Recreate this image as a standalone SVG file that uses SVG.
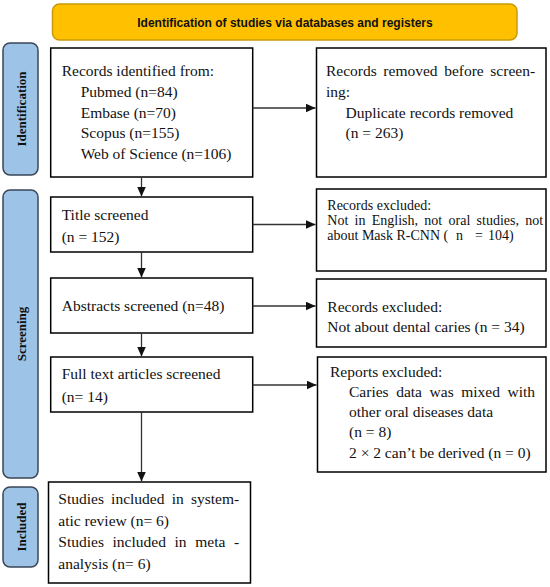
<svg xmlns="http://www.w3.org/2000/svg" width="550" height="587" viewBox="0 0 550 587">
<style>
.bg{fill:#ffffff}
.box{fill:#ffffff;stroke:#000000;stroke-width:1.5}
.bar{fill:#9DC3E6;stroke:#3A4657;stroke-width:1.5}
.banner{fill:#FFC000;stroke:#C99A06;stroke-width:1.5}
.t{font-family:"Liberation Serif","Times New Roman",serif;font-size:15.5px;fill:#111}
.s{font-family:"Liberation Serif","Times New Roman",serif;font-size:14px;fill:#111}
.side{font-family:"Liberation Serif","Times New Roman",serif;font-size:13px;font-weight:bold;fill:#111;text-anchor:middle}
.head{font-family:"Liberation Sans",Arial,sans-serif;font-size:12px;font-weight:bold;fill:#111;text-anchor:middle}
.c{stroke:#333;stroke-width:1.3;fill:none;marker-end:url(#ah)}
</style>
<defs>
<marker id="ah" markerUnits="userSpaceOnUse" markerWidth="10" markerHeight="9" refX="10" refY="4.5" orient="auto">
<path d="M0,0 L10,4.5 L0,9 z" fill="#111"/>
</marker>
</defs>
<rect class="bg" x="0" y="0" width="550" height="587"/>

<g id="banner">
<rect class="banner" x="52.5" y="4" width="464.5" height="36" rx="7"/>
<text class="head" x="285" y="26.5">Identification of studies via databases and registers</text>
</g>

<g id="bar-identification">
<rect class="bar" x="3" y="43" width="35" height="132" rx="7"/>
<text class="side" transform="translate(25.5,109) rotate(-90)">Identification</text>
</g>
<g id="bar-screening">
<rect class="bar" x="3" y="190" width="35" height="288" rx="7"/>
<text class="side" transform="translate(25.5,334) rotate(-90)">Screening</text>
</g>
<g id="bar-included">
<rect class="bar" x="3" y="487" width="35" height="80" rx="7"/>
<text class="side" transform="translate(25.5,527) rotate(-90)">Included</text>
</g>

<g id="records-identified">
<rect class="box" x="50.7" y="48" width="202" height="129"/>
<text class="t" x="61.7" y="76">Records identified from:</text>
<text class="t" x="80.7" y="97">Pubmed (n=84)</text>
<text class="t" x="80.7" y="117.5">Embase (n=70)</text>
<text class="t" x="80.7" y="138">Scopus (n=155)</text>
<text class="t" x="80.7" y="158.5">Web of Science (n=106)</text>
</g>

<g id="records-removed">
<rect class="box" x="316.5" y="48" width="229.5" height="129"/>
<text class="t" x="326" y="76" word-spacing="2.7">Records removed before screen-</text>
<text class="t" x="326" y="97">ing:</text>
<text class="t" x="345.5" y="117.5">Duplicate records removed</text>
<text class="t" x="345.5" y="138">(n = 263)</text>
</g>

<g id="title-screened">
<rect class="box" x="50.7" y="197" width="202" height="55"/>
<text class="t" x="61.7" y="220">Title screened</text>
<text class="t" x="61.7" y="241.5">(n = 152)</text>
</g>

<g id="records-excluded-1">
<rect class="box" x="316.5" y="189" width="229.5" height="82"/>
<text class="s" x="327.3" y="209.5">Records excluded:</text>
<text class="s" x="327.3" y="224.5" word-spacing="2.8">Not in English, not oral studies, not</text>
<text class="s" x="327.3" y="239.5">about Mask R-CNN (</text>
<text class="s" x="456" y="239.5">n</text>
<text class="s" x="475" y="239.5">=</text>
<text class="s" x="488" y="239.5">104)</text>
</g>

<g id="abstracts-screened">
<rect class="box" x="50.7" y="278" width="202" height="55"/>
<text class="t" x="61.7" y="311">Abstracts screened (n=48)</text>
</g>

<g id="records-excluded-2">
<rect class="box" x="316.5" y="279" width="229.5" height="68"/>
<text class="t" x="327.3" y="311.5">Records excluded:</text>
<text class="t" x="327.3" y="332">Not about dental caries (n = 34)</text>
</g>

<g id="full-text-screened">
<rect class="box" x="50.7" y="357" width="202" height="55"/>
<text class="t" x="61.7" y="379">Full text articles screened</text>
<text class="t" x="61.7" y="401.5">(n= 14)</text>
</g>

<g id="reports-excluded">
<rect class="box" x="317.5" y="357" width="228.5" height="115"/>
<text class="t" x="330" y="377">Reports excluded:</text>
<text class="t" x="349" y="397" word-spacing="3.7">Caries data was mixed with</text>
<text class="t" x="349" y="417">other oral diseases data</text>
<text class="t" x="349" y="437">(n = 8)</text>
<text class="t" x="349" y="457.5">2 × 2 can’t be derived (n = 0)</text>
</g>

<g id="studies-included">
<rect class="box" x="48.5" y="482" width="202" height="101"/>
<text class="t" x="58.3" y="504" word-spacing="3.3">Studies included in system-</text>
<text class="t" x="58.3" y="525.5">atic review (n= 6)</text>
<text class="t" x="58.3" y="547" word-spacing="4.75">Studies included in meta -</text>
<text class="t" x="58.3" y="568.5">analysis (n= 6)</text>
</g>

<g id="connectors">
<line class="c" x1="252.7" y1="108" x2="315.5" y2="108"/>
<line class="c" x1="141.5" y1="177" x2="141.5" y2="196.5"/>
<line class="c" x1="252.7" y1="224.5" x2="315.5" y2="224.5"/>
<line class="c" x1="141.5" y1="252" x2="141.5" y2="277.5"/>
<line class="c" x1="252.7" y1="306" x2="315.5" y2="306"/>
<line class="c" x1="141.5" y1="333" x2="141.5" y2="356.5"/>
<line class="c" x1="252.7" y1="385" x2="316.5" y2="385"/>
<line class="c" x1="141.5" y1="412" x2="141.5" y2="481.5"/>
</g>
</svg>
